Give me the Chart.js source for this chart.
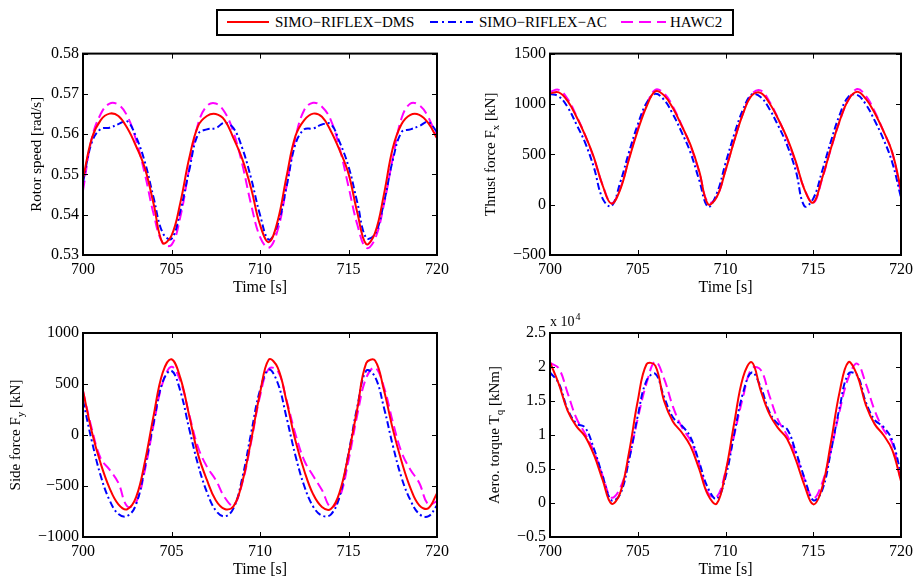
<!DOCTYPE html>
<html>
<head>
<meta charset="utf-8">
<script src="https://cdn.jsdelivr.net/npm/chart.js@4.4.1/dist/chart.umd.min.js"></script>
<style>
  body { margin: 0; background: #fff; }
  #wrap { position: relative; width: 918px; height: 578px; font-family: "Liberation Serif", "Times New Roman", serif; }
  #wrap canvas { position: absolute; }
  #legend { position: absolute; left: 216px; top: 9px; width: 518px; height: 27px; border: 2px solid #000; box-sizing: border-box; background: #fff; }
  #legend svg { position: absolute; top: 0; left: 0; }
  #legend span { position: absolute; top: 2px; font-size: 15px; line-height: 18px; white-space: nowrap; color: #000; }
</style>
</head>
<body>
<div id="wrap">
  <div id="legend">
    <svg width="514" height="23">
      <line x1="9" y1="11" x2="51" y2="11" stroke="#ff0000" stroke-width="2"/>
      <line x1="212" y1="11" x2="255" y2="11" stroke="#0000ff" stroke-width="2" stroke-dasharray="8,4,2,4"/>
      <line x1="403" y1="11" x2="448" y2="11" stroke="#ff00ff" stroke-width="2" stroke-dasharray="12,6"/>
    </svg>
    <span style="left:57px">SIMO−RIFLEX−DMS</span>
    <span style="left:261px">SIMO−RIFLEX−AC</span>
    <span style="left:452px">HAWC2</span>
  </div>
  <canvas id="rotor" width="459" height="258" style="left:0;top:40px"></canvas>
  <canvas id="thrust" width="459" height="258" style="left:459px;top:40px"></canvas>
  <canvas id="side" width="459" height="278" style="left:0;top:300px"></canvas>
  <canvas id="torque" width="459" height="278" style="left:459px;top:300px"></canvas>
</div>
<script>
// time axis [s]
const time = [700,700.5,701,701.5,702,702.5,703,703.5,704,704.5,705,705.5,706,706.5,707,707.5,708,708.5,709,709.5,
              710,710.5,711,711.5,712,712.5,713,713.5,714,714.5,715,715.5,716,716.5,717,717.5,718,718.5,719,719.5,720];

// rotor speed [rad/s]
const rotorDMS  = [0.5489,0.5590,0.5635,0.5651,0.5645,0.5615,0.5570,0.5515,0.5425,0.5330,0.5348,0.5430,0.5540,0.5620,0.5645,0.5650,0.5635,0.5590,0.5538,0.5465,
                   0.5375,0.5332,0.5385,0.5495,0.5595,0.5635,0.5651,0.5643,0.5608,0.5560,0.5502,0.5405,0.5327,0.5355,0.5450,0.5565,0.5625,0.5648,0.5648,0.5628,0.5590];
const rotorAC   = [0.5480,0.5580,0.5613,0.5616,0.5625,0.5632,0.5593,0.5530,0.5440,0.5355,0.5340,0.5410,0.5510,0.5600,0.5612,0.5615,0.5628,0.5615,0.5565,0.5490,
                   0.5400,0.5338,0.5375,0.5470,0.5575,0.5612,0.5614,0.5624,0.5625,0.5580,0.5520,0.5430,0.5342,0.5352,0.5430,0.5535,0.5605,0.5612,0.5620,0.5630,0.5605];
const rotorHAWC = [0.5460,0.5590,0.5650,0.5676,0.5673,0.5645,0.5585,0.5500,0.5400,0.5330,0.5325,0.5395,0.5515,0.5625,0.5670,0.5676,0.5655,0.5605,0.5525,0.5425,
                   0.5345,0.5318,0.5362,0.5470,0.5590,0.5660,0.5678,0.5668,0.5635,0.5565,0.5470,0.5375,0.5318,0.5340,0.5425,0.5540,0.5640,0.5676,0.5672,0.5643,0.5590];

// thrust force Fx [kN]
const thrustDMS  = [1105,1115,1030,875,690,470,190,10,150,450,735,975,1125,1085,960,785,595,335,5,75,
                    340,635,905,1085,1110,1010,850,665,430,150,20,260,555,830,1040,1120,1050,910,730,520,150];
const thrustAC   = [1100,1075,970,800,615,370,60,-15,220,520,795,1010,1100,1040,900,720,520,245,-20,110,
                    410,700,945,1095,1070,950,785,595,340,-15,60,330,625,890,1070,1090,995,835,650,420,70];
const thrustHAWC = [1120,1140,1050,885,690,460,195,15,160,460,755,990,1140,1105,975,790,585,325,20,80,
                    340,640,905,1100,1135,1025,855,655,415,155,15,250,550,825,1040,1148,1080,925,730,515,110];

// side force Fy [kN]
const sideDMS  = [434,30,-280,-520,-680,-728,-610,-260,200,610,742,560,190,-190,-440,-640,-725,-700,-460,-50,
                  410,740,660,330,-55,-350,-580,-705,-725,-560,-190,260,705,730,440,60,-260,-520,-690,-720,-570];
const sideAC   = [340,-60,-400,-640,-775,-795,-680,-310,130,520,630,430,60,-290,-560,-740,-798,-720,-420,20,
                  440,640,510,170,-200,-500,-700,-790,-780,-600,-180,280,630,570,270,-100,-420,-640,-775,-798,-690];
const sideHAWC = [430,60,-230,-340,-470,-700,-660,-340,110,510,668,530,200,-120,-310,-440,-610,-690,-470,-70,
                  380,650,630,340,10,-250,-400,-540,-705,-610,-250,200,560,660,470,130,-170,-340,-470,-680,-650];

// aero torque Tq [x 10^4 kNm]
const torqueDMS  = [2.07,1.75,1.36,1.13,0.98,0.71,0.34,-0.01,0.15,0.74,1.50,2.04,2.02,1.50,1.20,1.04,0.84,0.50,0.12,-0.01,
                    0.45,1.18,1.85,2.07,1.66,1.31,1.10,0.95,0.64,0.26,-0.02,0.22,0.88,1.63,2.07,1.88,1.44,1.16,1.00,0.78,0.32];
const torqueAC   = [1.92,1.76,1.38,1.17,1.11,0.80,0.40,0.04,0.13,0.63,1.28,1.80,1.90,1.56,1.26,1.14,0.97,0.60,0.22,0.06,
                    0.38,1.02,1.62,1.92,1.71,1.34,1.16,1.09,0.76,0.37,0.04,0.18,0.75,1.40,1.90,1.88,1.48,1.22,1.12,0.92,0.42];
const torqueHAWC = [2.06,1.98,1.62,1.25,1.02,0.76,0.40,0.08,0.22,0.65,1.24,1.76,2.08,1.83,1.42,1.12,0.92,0.58,0.15,0.09,
                    0.46,1.00,1.56,1.98,1.96,1.58,1.22,1.00,0.72,0.35,0.07,0.29,0.76,1.35,1.84,2.05,1.75,1.36,1.08,0.88,0.32];

const FONT = '"Liberation Serif", "Times New Roman", serif';
Chart.defaults.font.family = FONT;
Chart.defaults.color = '#000';

function series(vals) {
  return vals.map((v, i) => ({ x: time[i], y: v }));
}

function minus(v) {
  const r = Math.round(v * 100) / 100;
  return r < 0 ? '\u2212' + Math.abs(r) : String(r);
}

// box, inward ticks and axis titles, matlab style
const framePlugin = {
  id: 'frame',
  afterDraw(chart, args, opts) {
    const { ctx, chartArea: a, scales } = chart;
    ctx.save();
    ctx.strokeStyle = '#000';
    ctx.lineWidth = 1;
    ctx.beginPath();
    scales.x.ticks.forEach(t => {
      const x = Math.round(scales.x.getPixelForValue(t.value)) + 0.5;
      ctx.moveTo(x, a.bottom); ctx.lineTo(x, a.bottom - 5);
      ctx.moveTo(x, a.top); ctx.lineTo(x, a.top + 5);
    });
    scales.y.ticks.forEach(t => {
      const y = Math.round(scales.y.getPixelForValue(t.value)) + 0.5;
      ctx.moveTo(a.left, y); ctx.lineTo(a.left + 5, y);
      ctx.moveTo(a.right, y); ctx.lineTo(a.right - 5, y);
    });
    ctx.stroke();
    ctx.lineWidth = 2;
    ctx.strokeRect(a.left, a.top, a.right - a.left, a.bottom - a.top);

    ctx.fillStyle = '#000';
    ctx.font = '16px ' + FONT;
    ctx.textAlign = 'center';
    ctx.textBaseline = 'middle';
    ctx.fillText('Time [s]', (a.left + a.right) / 2, a.bottom + 33);

    // y title with subscript parts
    const main = '15px ' + FONT, small = '11px ' + FONT;
    let total = 0;
    opts.ytitle.forEach(p => { ctx.font = p[1] ? small : main; total += ctx.measureText(p[0]).width; });
    ctx.translate(a.left - opts.yoff, (a.top + a.bottom) / 2);
    ctx.rotate(-Math.PI / 2);
    ctx.textAlign = 'left';
    let x = -total / 2;
    opts.ytitle.forEach(p => {
      ctx.font = p[1] ? small : main;
      ctx.fillText(p[0], x, p[1] ? 5 : 0);
      x += ctx.measureText(p[0]).width;
    });
    ctx.restore();

    if (opts.mult) {
      ctx.save();
      ctx.fillStyle = '#000';
      ctx.textBaseline = 'alphabetic';
      ctx.textAlign = 'left';
      ctx.font = '14px ' + FONT;
      ctx.fillText('x 10', a.left, a.top - 7);
      const w = ctx.measureText('x 10').width;
      ctx.font = '10px ' + FONT;
      ctx.fillText('4', a.left + w + 1, a.top - 13);
      ctx.restore();
    }
  }
};

function makeChart(id, cfg) {
  return new Chart(document.getElementById(id), {
    type: 'line',
    data: {
      datasets: [
        { label: 'SIMO-RIFLEX-DMS', data: series(cfg.dms), borderColor: '#ff0000', borderWidth: 2 },
        { label: 'SIMO-RIFLEX-AC', data: series(cfg.ac), borderColor: '#0000ff', borderWidth: 2, borderDash: [7, 3, 2, 3] },
        { label: 'HAWC2', data: series(cfg.hawc), borderColor: '#ff00ff', borderWidth: 2, borderDash: [10, 5] }
      ]
    },
    options: {
      responsive: false,
      animation: false,
      layout: { padding: { top: cfg.padTop, right: cfg.padRight, left: 0, bottom: 0 } },
      elements: { point: { radius: 0 }, line: { tension: 0.4, fill: false } },
      plugins: {
        legend: { display: false },
        tooltip: { enabled: false },
        frame: { ytitle: cfg.ytitle, yoff: cfg.yoff, mult: cfg.mult }
      },
      scales: {
        x: {
          type: 'linear', min: 700, max: 720,
          ticks: { stepSize: 5, color: '#000', font: { size: 16 }, padding: 5, maxRotation: 0 },
          grid: { display: false, drawTicks: false },
          border: { display: false },
          afterFit: s => { s.height = cfg.xh; }
        },
        y: {
          min: cfg.min, max: cfg.max,
          ticks: { stepSize: cfg.step, color: '#000', font: { size: 16 }, padding: 4, callback: cfg.fmt },
          grid: { display: false, drawTicks: false },
          border: { display: false },
          afterFit: s => { s.width = cfg.yw; }
        }
      }
    },
    plugins: [framePlugin]
  });
}

makeChart('rotor', {
  dms: rotorDMS, ac: rotorAC, hawc: rotorHAWC,
  min: 0.53, max: 0.58, step: 0.01, fmt: v => v.toFixed(2),
  yw: 83, padTop: 12, padRight: 22, xh: 43, yoff: 46,
  ytitle: [['Rotor speed [rad/s]', false]]
});
makeChart('thrust', {
  dms: thrustDMS, ac: thrustAC, hawc: thrustHAWC,
  min: -500, max: 1500, step: 500, fmt: minus,
  yw: 91, padTop: 12, padRight: 14, xh: 43, yoff: 59,
  ytitle: [['Thrust force F', false], ['x', true], [' [kN]', false]]
});
makeChart('side', {
  dms: sideDMS, ac: sideAC, hawc: sideHAWC,
  min: -1000, max: 1000, step: 500, fmt: minus,
  yw: 83, padTop: 33, padRight: 22, xh: 41, yoff: 67,
  ytitle: [['Side force F', false], ['y', true], [' [kN]', false]]
});
makeChart('torque', {
  dms: torqueDMS, ac: torqueAC, hawc: torqueHAWC,
  min: -0.5, max: 2.5, step: 0.5, fmt: minus,
  yw: 91, padTop: 33, padRight: 14, xh: 41, yoff: 55, mult: true,
  ytitle: [['Aero. torque T', false], ['q', true], [' [kNm]', false]]
});
</script>
</body>
</html>
